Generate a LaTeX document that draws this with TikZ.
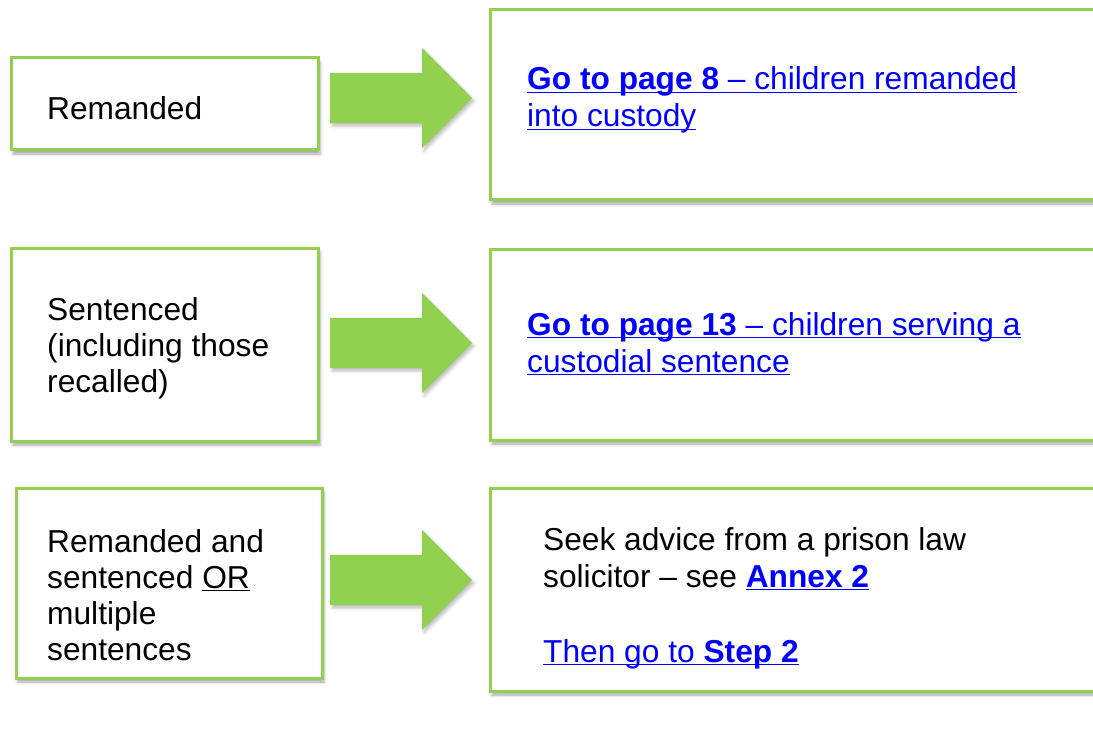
\documentclass[tikz,border=0pt]{standalone}
\usepackage{fontspec}
\setmainfont{Liberation Sans}
\usetikzlibrary{shapes.arrows,shadows.blur}

\definecolor{boxgreen}{HTML}{92D050}
\definecolor{linkblue}{HTML}{0000FF}
% underline that sits just below the baseline
\newcommand\linkline[1]{\setbox0\hbox{#1}\rlap{\rule[-3.4pt]{\wd0}{1.6pt}}\box0}

\tikzset{
  stepbox/.style={draw=boxgreen, line width=3pt, fill=white, inner sep=0pt,
    anchor=north west,
    blur shadow={shadow xshift=2pt, shadow yshift=-4pt, shadow blur radius=3pt, shadow opacity=35}},
  greenarrow/.style={single arrow, fill=boxgreen, draw=none, inner xsep=0pt, inner ysep=25pt,
    minimum height=142pt, minimum width=100pt, single arrow head extend=25pt,
    single arrow head indent=0pt, anchor=west,
    blur shadow={shadow xshift=2pt, shadow yshift=-3pt, shadow blur radius=3pt, shadow opacity=25}},
  steptext/.style={anchor=base west, inner sep=0pt, align=left,
    font=\fontsize{31.7}{36}\selectfont},
  linktext/.style={steptext, text=linkblue, font=\fontsize{31.7}{37}\selectfont},
}

\begin{document}
\begin{tikzpicture}[x=1pt, y=-1pt]
\useasboundingbox (0,0) rectangle (1093,749);
\clip (0,0) rectangle (1093,749);

% left column
\node[stepbox, minimum width=307, minimum height=92] (rem) at (9.5,56.5) {};
\node[stepbox, minimum width=307, minimum height=193] (sen) at (9.5,246.5) {};
\node[stepbox, minimum width=306, minimum height=190] (both) at (14.5,486.5) {};

% text nodes sit on the baseline of their last line
\node[steptext] (remtext) at (47,120) {Remanded};
\node[steptext] (sentext) at (47,392) {Sentenced\\(including those\\recalled)};
\node[steptext] (bothtext) at (47,660) {Remanded and\\sentenced \linkline{OR}\\multiple\\sentences};

% arrows
\node[greenarrow] (arr1) at (330,98) {};
\node[greenarrow] (arr2) at (330,343) {};
\node[greenarrow] (arr3) at (330,580) {};

% right column
\node[stepbox, minimum width=640, minimum height=190] (page8) at (488.5,8.5) {};
\node[stepbox, minimum width=640, minimum height=191] (page13) at (488.5,247.5) {};
\node[stepbox, minimum width=640, minimum height=203] (advice) at (488.5,486.5) {};

\node[linktext] (page8text) at (527,127)
  {\linkline{\textbf{Go to page 8} -- children remanded}\\\linkline{into custody}};
\node[linktext] (page13text) at (527,372)
  {\linkline{\textbf{Go to page 13} -- children serving a}\\\linkline{custodial sentence}};
\node[steptext, font=\fontsize{31.7}{37}\selectfont] (advicetext) at (543,662)
  {Seek advice from a prison law\\solicitor -- see \textcolor{linkblue}{\linkline{\textbf{Annex 2}}}\\[38pt]
   \textcolor{linkblue}{\linkline{Then go to \textbf{Step 2}}}};
\end{tikzpicture}
\end{document}
